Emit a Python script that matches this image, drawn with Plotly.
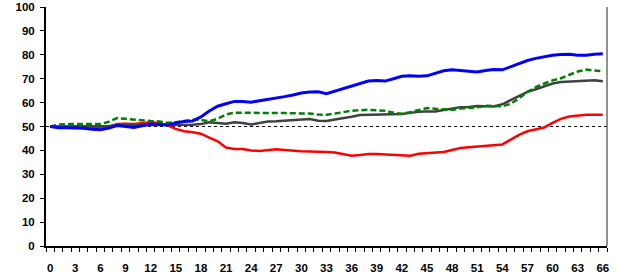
import plotly.graph_objects as go

days = list(range(67))

blue = [50, 49.5, 49.5, 49.5, 49.3, 48.8, 48.6, 49.3, 50.4, 50, 49.6, 50.3, 51, 50.8, 50.6, 51.5,
        52.1, 52.3, 54, 56.5, 58.5, 59.5, 60.5, 60.5, 60.2, 60.8, 61.3, 62, 62.5, 63.2, 64, 64.4,
        64.5, 63.7, 64.8, 65.8, 67, 68.2, 69, 69.2, 69, 70, 71, 71.2, 71, 71.2, 72.3, 73.3, 73.7,
        73.4, 73, 72.8, 73.4, 73.8, 73.7, 75, 76.5, 77.6, 78.5, 79.2, 79.8, 80.1, 80.2, 79.8, 79.8,
        80.2, 80.4]

green = [50, 50.8, 51, 51, 51, 51, 51, 52, 53.5, 53.2, 52.8, 52.5, 52.3, 52.1, 51.6, 51.8, 52.2,
         52.8, 52.8, 52.2, 53.2, 55, 55.8, 55.7, 55.6, 55.6, 55.6, 55.6, 55.6, 55.6, 55.6, 55.4,
         55, 54.9, 55.4, 56, 56.6, 56.8, 57, 56.8, 56.6, 55.8, 55.3, 56, 57, 57.7, 57.4, 57.2, 57,
         57.5, 57.6, 58, 58.7, 58.4, 58.4, 59.5, 61.8, 64.5, 66.5, 68, 69.3, 70.2, 71.5, 73, 73.8,
         73.4, 73.1]

grey = [50, 50, 50, 50, 50, 50, 50, 50.2, 50.5, 50.5, 50.5, 50.6, 50.6, 50.5, 50.4, 50.6, 50.7,
        50.7, 51, 51.8, 51.5, 51.2, 51.8, 51.5, 50.8, 51.5, 52.1, 52.2, 52.4, 52.6, 52.8, 53.1,
        52.4, 52.3, 52.9, 53.4, 54.1, 54.8, 54.9, 54.9, 54.8, 54.9, 55.2, 55.7, 56.2, 56.3, 56.3,
        56.9, 57.6, 58.1, 58.2, 58.6, 58.5, 58.4, 59.3, 61, 63, 64.5, 65.6, 66.8, 68, 68.6, 68.8,
        68.9, 69.1, 69.3, 68.9]

red = [50, 49.8, 49.6, 49.7, 49.8, 49.3, 49.5, 49.8, 51, 51.2, 51, 51.5, 51.8, 51.5, 50.5, 49,
       48, 47.6, 47, 45.3, 43.8, 41.2, 40.6, 40.6, 40, 39.8, 40.3, 40.5, 40.2, 39.8, 39.6, 39.5,
       39.5, 39.3, 39.1, 38.6, 37.8, 38.1, 38.5, 38.5, 38.3, 38.2, 38.2, 37.8, 38.6, 38.9, 38.9,
       39.3, 40.2, 41, 41.3, 41.6, 41.8, 41.9, 42.5, 44.5, 46.5, 48, 48.9, 49.6, 51.5, 53.2, 54.2,
       54.7, 54.9, 54.9, 54.9]

reference_level = 50
x_labels = list(range(0, 67, 3))
y_ticks = list(range(0, 101, 10))

fig = go.Figure()
fig.add_trace(go.Scatter(x=days, y=red, mode="lines", line=dict(color="#FF0000", width=2.5)))
fig.add_trace(go.Scatter(x=days, y=grey, mode="lines", line=dict(color="#404040", width=2.5)))
fig.add_trace(go.Scatter(x=days, y=green, mode="lines",
                         line=dict(color="#008000", width=2.5, dash="6px,3px")))
fig.add_trace(go.Scatter(x=days, y=blue, mode="lines", line=dict(color="#0000FF", width=3)))

fig.add_shape(type="line", xref="paper", x0=0, x1=1, yref="y",
              y0=reference_level, y1=reference_level,
              line=dict(color="#000000", width=1, dash="dot"), layer="below")
fig.add_shape(type="line", xref="paper", x0=1, x1=1, yref="paper", y0=0, y1=1,
              line=dict(color="#555555", width=1.3))

font = dict(family="Liberation Sans, Arial, sans-serif", size=11.5, color="#000000")

fig.update_layout(
    width=617, height=275,
    margin=dict(l=46, r=10, t=7, b=29),
    paper_bgcolor="#FFFFFF", plot_bgcolor="#FFFFFF",
    showlegend=False,
    font=font,
    xaxis=dict(
        range=[-0.5, 66.5], tickmode="array", tickvals=x_labels,
        ticktext=[f"<b>{v}</b>" for v in x_labels],
        ticks="", showgrid=False, zeroline=False, automargin=False,
        showline=True, linecolor="#000000", linewidth=2,
        ticklabelstandoff=10,
        minor=dict(tickmode="array", tickvals=[d - 0.5 for d in days] + [66.5],
                   ticks="outside", ticklen=4, tickcolor="#000000", tickwidth=1,
                   showgrid=False),
    ),
    yaxis=dict(
        range=[0, 100], tickmode="array", tickvals=y_ticks,
        ticktext=[f"<b>{v}</b>" for v in y_ticks],
        ticks="outside", ticklen=4, tickcolor="#000000", tickwidth=1,
        showgrid=False, zeroline=False, automargin=False,
        showline=True, linecolor="#000000", linewidth=2,
        ticklabelstandoff=3,
    ),
)

fig.write_html("out.html", config={"displayModeBar": False},
               post_script="document.body.style.margin='0px';")
